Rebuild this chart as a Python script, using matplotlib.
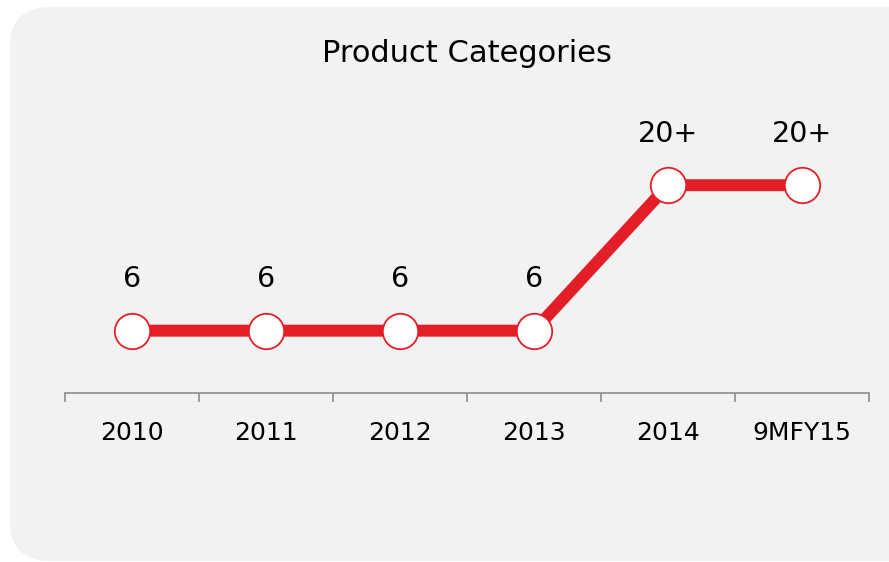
import matplotlib.pyplot as plt
from matplotlib.patches import FancyBboxPatch
from matplotlib.transforms import IdentityTransform

# data
years = ['2010', '2011', '2012', '2013', '2014', '9MFY15']
counts = [6, 6, 6, 6, 20, 20]
labels = ['6', '6', '6', '6', '20+', '20+']

red = '#e41e26'

fig = plt.figure(figsize=(8.89, 5.62), dpi=100)
fig.patch.set_facecolor('white')

# rounded grey panel behind the chart
panel = FancyBboxPatch((10, 1), 940, 554, boxstyle='round,pad=0,rounding_size=40',
                       transform=IdentityTransform(), facecolor='#f2f2f2',
                       edgecolor='none', zorder=-5)
fig.patches.append(panel)

ax = fig.add_axes([65 / 889, 169 / 562, 804 / 889, 293 / 562])
ax.set_facecolor('none')
ax.set_zorder(2)

x = list(range(len(years)))
ax.plot(x, counts, color=red, linewidth=8.6, solid_joinstyle='miter', zorder=2)
ax.plot(x, counts, linestyle='none', marker='o', markersize=25.5,
        markerfacecolor='white', markeredgecolor=red, markeredgewidth=1.3, zorder=3)

for xi, yi, lab in zip(x, counts, labels):
    ax.annotate(lab, (xi, yi), xytext=(0, 37), textcoords='offset points',
                ha='center', va='center', fontsize=20.5, color='black')

ax.set_xlim(-0.5, len(years) - 0.5)
ax.set_ylim(0, 28.2)

for s in ['top', 'right', 'left']:
    ax.spines[s].set_visible(False)
ax.spines['bottom'].set_color('#8c8c8c')
ax.spines['bottom'].set_linewidth(1.2)

ax.set_yticks([])
ax.set_xticks(x)
ax.set_xticklabels(years, fontsize=18)
ax.set_xticks([i - 0.5 for i in range(len(years) + 1)], minor=True)
ax.tick_params(axis='x', which='major', length=0, pad=20)
ax.tick_params(axis='x', which='minor', length=6.5, width=1.2, color='#8c8c8c',
               direction='out')

fig.text(467 / 889, 1 - 53 / 562, 'Product Categories', ha='center', va='center',
         fontsize=22, color='black')

fig.savefig('out.png', dpi=100)
